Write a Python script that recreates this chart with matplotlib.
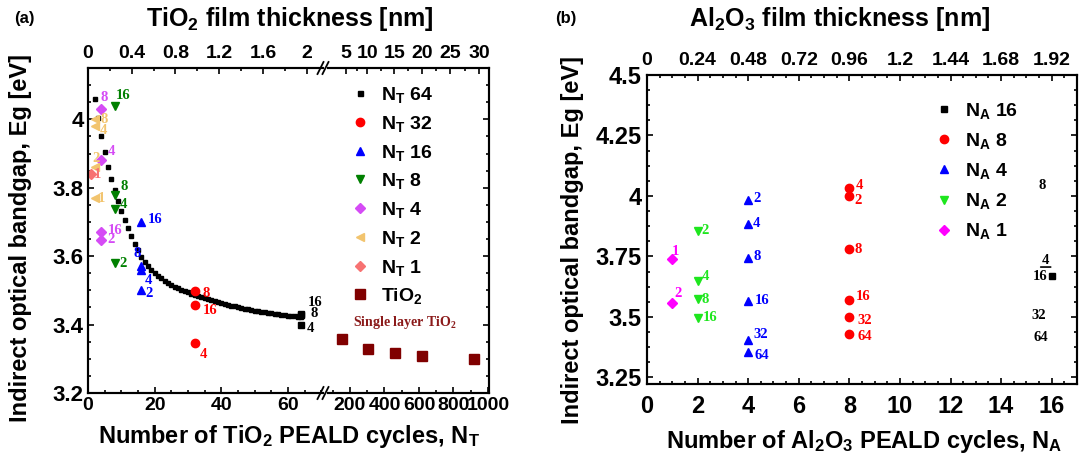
import matplotlib
matplotlib.use('Agg')
import matplotlib.pyplot as plt
from matplotlib.lines import Line2D
from matplotlib.transforms import offset_copy

plt.rcParams['font.family'] = ['Liberation Sans', 'DejaVu Sans']
plt.rcParams['font.weight'] = 'bold'
plt.rcParams['mathtext.fontset'] = 'custom'
plt.rcParams['mathtext.rm'] = 'Liberation Sans:bold'
plt.rcParams['mathtext.it'] = 'Liberation Sans:bold'
plt.rcParams['mathtext.bf'] = 'Liberation Serif:bold'

# ---------------- Panel (a) data ----------------
fit_cycles = list(range(2, 65))
fit_eg = [4.060, 4.003, 3.952, 3.905, 3.862, 3.826, 3.792, 3.762, 3.733, 3.706,
          3.682, 3.658, 3.636, 3.617, 3.599, 3.584, 3.571, 3.560, 3.550, 3.542,
          3.535, 3.528, 3.522, 3.516, 3.511, 3.506, 3.502, 3.498, 3.494, 3.490,
          3.487, 3.483, 3.480, 3.477, 3.474, 3.471, 3.468, 3.465, 3.462, 3.460,
          3.457, 3.455, 3.453, 3.451, 3.449, 3.447, 3.445, 3.443, 3.441, 3.439,
          3.437, 3.436, 3.434, 3.433, 3.431, 3.430, 3.428, 3.427, 3.426, 3.425,
          3.424, 3.423, 3.422]

nt64_labels = ['16', '8', '4']
nt64_eg = [3.432, 3.428, 3.398]
nt32_labels = ['8', '16', '4']
nt32_eg = [3.497, 3.456, 3.347]
nt16_labels = ['16', '8', '4', '2']
nt16_eg = [3.700, 3.572, 3.560, 3.501]
nt8_labels = ['16', '8', '4', '2']
nt8_eg = [4.038, 3.780, 3.738, 3.579]
nt4_labels = ['8', '4', '16', '2']
nt4_eg = [4.029, 3.880, 3.670, 3.648]
nt2_labels = ['8', '4', '2', '1']
nt2_eg = [4.000, 3.980, 3.862, 3.770]
nt1_labels = ['1']
nt1_eg = [3.840]
tio2_cycles = [152, 306, 461, 616, 919]
tio2_eg = [3.357, 3.328, 3.316, 3.307, 3.298]

a_legend_labels = [r'$\mathrm{N_T}$ 64', r'$\mathrm{N_T}$ 32', r'$\mathrm{N_T}$ 16',
                   r'$\mathrm{N_T}$ 8', r'$\mathrm{N_T}$ 4', r'$\mathrm{N_T}$ 2',
                   r'$\mathrm{N_T}$ 1', r'TiO$_2$']
a_yticks = [3.2, 3.4, 3.6, 3.8, 4.0]
a_yticklabels = ['3.2', '3.4', '3.6', '3.8', '4']
a_xticks_left = [0, 20, 40, 60]
a_xticks_right = [200, 400, 600, 800, 1000]
a_top_nm_left = [0, 0.4, 0.8, 1.2, 1.6, 2.0]
a_top_nm_left_labels = ['0', '0.4', '0.8', '1.2', '1.6', '2']
a_top_right_cycles = [177, 299, 458, 617, 780, 948]
a_top_right_labels = ['5', '10', '15', '20', '25', '30']
cycles_per_nm = 32.8

# ---------------- Panel (b) data ----------------
na1_labels = ['1', '2']
na1_eg = [3.738, 3.559]
na2_labels = ['2', '4', '8', '16']
na2_eg = [3.856, 3.650, 3.575, 3.497]
na4_labels = ['2', '4', '8', '16', '32', '64']
na4_eg = [3.983, 3.884, 3.745, 3.565, 3.404, 3.354]
na8_labels = ['4', '2', '8', '16', '32', '64']
na8_eg = [4.032, 4.000, 3.779, 3.570, 3.500, 3.429]
na16_labels = ['8', '4', '16', '32', '64']
na16_eg = [4.045, 3.735, 3.669, 3.504, 3.414]

b_legend_labels = [r'$\mathrm{N_A}$ 16', r'$\mathrm{N_A}$ 8', r'$\mathrm{N_A}$ 4',
                   r'$\mathrm{N_A}$ 2', r'$\mathrm{N_A}$ 1']
b_yticks = [3.25, 3.5, 3.75, 4.0, 4.25, 4.5]
b_yticklabels = ['3.25', '3.5', '3.75', '4', '4.25', '4.5']
b_xticks = [0, 2, 4, 6, 8, 10, 12, 14, 16]
b_top_labels = ['0', '0.24', '0.48', '0.72', '0.96', '1.2', '1.44', '1.68', '1.92']

# ---------------- styling ----------------
W, H = 1086, 461
fig = plt.figure(figsize=(W / 100, H / 100), dpi=100)


def fx(px):
    return px / W


def fy(py):
    return 1 - py / H


C64, C32, C16, C8, C4, C2, C1, CT = ('black', '#FF0000', '#0000FF', '#008000',
                                     '#D54BF5', '#F2C46E', '#F77272', '#800000')
CB16, CB8, CB4, CB2, CB1 = 'black', '#FF0000', '#0000FF', '#1EE61E', '#FF00FF'

LBL = dict(fontsize=10.5, fontfamily='Liberation Serif', fontweight='bold',
           ha='center', va='center')
SPW = 1.5


def label_points(ax, x, ys, labels, offsets, color):
    for y, t, (dx, dy) in zip(ys, labels, offsets):
        ax.annotate(t, (x, y), xytext=(dx, -dy), textcoords='offset pixels',
                    color=color, **LBL)


def style_ticks(ax):
    ax.tick_params(which='both', direction='in', width=1.2)
    ax.tick_params(which='major', length=4.5)
    ax.tick_params(which='minor', length=2.5)
    for s in ax.spines.values():
        s.set_linewidth(SPW)


# ---------- Panel (a): broken x axis ----------
ylo, yhi = 3.2, 4.15
axL = fig.add_axes([fx(88), fy(393), fx(323) - fx(88), fy(68) - fy(393)])
axR = fig.add_axes([fx(328), fy(393), fx(489) - fx(328), fy(68) - fy(393)])
for ax in (axL, axR):
    ax.set_ylim(ylo, yhi)
    style_ticks(ax)
axL.set_xlim(0, 70.5)
axR.set_xlim(72.5, 1006)
axL.spines['right'].set_visible(False)
axR.spines['left'].set_visible(False)
axL.set_yticks(a_yticks)
axL.set_yticklabels(a_yticklabels)
axL.set_yticks([v / 100 for v in range(320, 416, 5)], minor=True)
axL.tick_params(axis='y', labelsize=16, pad=3)
axR.yaxis.tick_right()
axR.set_yticks(a_yticks)
axR.set_yticks([v / 100 for v in range(320, 416, 5)], minor=True)
axR.tick_params(axis='y', which='both', labelright=False)
axL.set_xticks(a_xticks_left)
axL.set_xticks(list(range(0, 71, 5)), minor=True)
axR.set_xticks(a_xticks_right)
axR.set_xticks(list(range(100, 1001, 100)), minor=True)
axL.tick_params(axis='x', labelsize=14, pad=3)
axR.tick_params(axis='x', labelsize=14, pad=3)

# top axes for thickness
axLt = axL.twiny()
axLt.set_xlim(axL.get_xlim())
axLt.set_xticks([v * cycles_per_nm for v in a_top_nm_left])
axLt.set_xticklabels(a_top_nm_left_labels)
axLt.set_xticks([v / 10 * cycles_per_nm for v in range(0, 22, 2)], minor=True)
axRt = axR.twiny()
axRt.set_xlim(axR.get_xlim())
axRt.set_xticks(a_top_right_cycles)
axRt.set_xticklabels(a_top_right_labels)
axRt.set_xticks([(a + b) / 2 for a, b in zip(a_top_right_cycles[:-1], a_top_right_cycles[1:])],
                minor=True)
for ax in (axLt, axRt):
    style_ticks(ax)
    ax.tick_params(axis='x', labelsize=14, pad=4)
axLt.spines['right'].set_visible(False)
axRt.spines['left'].set_visible(False)

# data
axL.plot(fit_cycles, fit_eg, ls='none', marker='s', ms=2.6, color=C64)
axL.plot([64] * len(nt64_eg), nt64_eg, ls='none', marker='s', ms=5, color=C64)
axL.plot([32] * len(nt32_eg), nt32_eg, ls='none', marker='o', ms=6, color=C32)
axL.plot([16] * len(nt16_eg), nt16_eg, ls='none', marker='^', ms=6, color=C16)
axL.plot([8] * len(nt8_eg), nt8_eg, ls='none', marker='v', ms=6, color=C8)
axL.plot([4] * len(nt4_eg), nt4_eg, ls='none', marker='D', ms=5, color=C4)
axL.plot([2] * len(nt2_eg), nt2_eg, ls='none', marker='<', ms=6, color=C2)
axL.plot([1] * len(nt1_eg), nt1_eg, ls='none', marker='D', ms=5, color=C1)
axR.plot(tio2_cycles, tio2_eg, ls='none', marker='s', ms=7, color=CT)

label_points(axL, 64, nt64_eg, nt64_labels, [(14, -11), (13, -2), (9, 3)], C64)
label_points(axL, 32, nt32_eg, nt32_labels, [(12, 2), (15, 5), (9, 12)], C32)
label_points(axL, 16, nt16_eg, nt16_labels, [(14, -2), (-4, -12), (7, 11), (8, 3)], C16)
label_points(axL, 8, nt8_eg, nt8_labels, [(8, -11), (10, -8), (9, -4), (8, 0)], C8)
label_points(axL, 4, nt4_eg, nt4_labels, [(3, -12), (10, -9), (14, -2), (10, 0)], C4)
label_points(axL, 2, nt2_eg, nt2_labels, [(10, 0), (9, 4), (1, -8), (7, 0)], C2)
label_points(axL, 1, nt1_eg, nt1_labels, [(6, 0)], C1)

axR.text(0.48, 0.218, r'Single layer TiO$_\mathbf{2}$', transform=axR.transAxes,
         ha='center', va='center', fontsize=10, fontfamily='Liberation Serif',
         fontweight='bold', color='#8B1A1A')

a_handles = [Line2D([], [], ls='none', marker='s', ms=3.6, color=C64),
             Line2D([], [], ls='none', marker='o', ms=6, color=C32),
             Line2D([], [], ls='none', marker='^', ms=6, color=C16),
             Line2D([], [], ls='none', marker='v', ms=6, color=C8),
             Line2D([], [], ls='none', marker='D', ms=5, color=C4),
             Line2D([], [], ls='none', marker='<', ms=6, color=C2),
             Line2D([], [], ls='none', marker='D', ms=5, color=C1),
             Line2D([], [], ls='none', marker='s', ms=7, color=CT)]
fig.legend(a_handles, a_legend_labels, loc='upper left', bbox_to_anchor=(fx(350), fy(85)),
           frameon=False, fontsize=14, handlelength=1.0, handletextpad=0.6,
           labelspacing=0.45, borderpad=0, borderaxespad=0)

# break marks
for ypix in (393, 68):
    for xpix in (320.5, 325.5):
        fig.add_artist(Line2D([fx(xpix - 3), fx(xpix + 3)], [fy(ypix + 6), fy(ypix - 6)],
                              transform=fig.transFigure, color='black', lw=1.3))

fig.text(fx(24), fy(19), '(a)', fontsize=12, ha='center', va='center')
fig.text(fx(290), fy(19), r'TiO$_2$ film thickness [nm]', fontsize=18, ha='center', va='center')
fig.text(fx(289), fy(436), r'Number of TiO$_2$ PEALD cycles, N$_\mathrm{T}$', fontsize=17,
         ha='center', va='center')
fig.text(fx(21), fy(238), 'Indirect optical bandgap, Eg [eV]', fontsize=17,
         rotation=90, ha='center', va='center')

# ---------- Panel (b) ----------
axB = fig.add_axes([fx(647), fy(384), fx(1077) - fx(647), fy(75) - fy(384)])
axB.set_xlim(0, 17)
axB.set_ylim(3.2225, 4.5)
style_ticks(axB)
axB.tick_params(which='both', right=True)
axB.set_xticks(b_xticks)
axB.set_xticks([v / 2 for v in range(0, 35)], minor=True)
axB.set_yticks(b_yticks)
axB.set_yticklabels(b_yticklabels)
axB.set_yticks([3.25 + v * 0.0625 for v in range(0, 21)], minor=True)
axB.tick_params(axis='both', labelsize=17)
axB.tick_params(axis='x', pad=8)
axB.tick_params(axis='y', pad=4)
axBt = axB.twiny()
axBt.set_xlim(axB.get_xlim())
axBt.set_xticks(b_xticks)
axBt.set_xticklabels(b_top_labels)
axBt.set_xticks([v / 2 for v in range(0, 35)], minor=True)
style_ticks(axBt)
axBt.tick_params(axis='x', labelsize=14, pad=4)

axB.plot([1] * len(na1_eg), na1_eg, ls='none', marker='D', ms=5, color=CB1)
axB.plot([2] * len(na2_eg), na2_eg, ls='none', marker='v', ms=6, color=CB2)
axB.plot([4] * len(na4_eg), na4_eg, ls='none', marker='^', ms=6, color=CB4)
axB.plot([8] * len(na8_eg), na8_eg, ls='none', marker='o', ms=6, color=CB8)
axB.plot([16], [na16_eg[na16_labels.index('16')]], ls='none', marker='s', ms=4.5, color=CB16)

label_points(axB, 1, na1_eg, na1_labels, [(3, -8), (6, -9)], CB1)
label_points(axB, 2, na2_eg, na2_labels, [(7, 0), (8, -4), (8, 1), (13, 0)], CB2)
label_points(axB, 4, na4_eg, na4_labels, [(9, -2), (8, 0), (9, -1), (14, -1), (13, -6), (14, 3)], CB4)
label_points(axB, 8, na8_eg, na8_labels, [(10, -3), (9, 5), (9, 0), (14, -3), (15, 4), (15, 2)], CB8)
label_points(axB, 16, na16_eg, na16_labels, [(-10, 0), (-6, 0), (-12, 0), (-13, 0), (-11, 0)], CB16)
# small dash under the "4" label of N_A 16
v4 = na16_eg[na16_labels.index('4')]
axB.annotate('', xy=(16, v4), xycoords=offset_copy(axB.transData, fig=fig, x=-1, y=-7, units='dots'),
             xytext=(16, v4), textcoords=offset_copy(axB.transData, fig=fig, x=-11, y=-7, units='dots'),
             arrowprops=dict(arrowstyle='-', lw=1.2, color='black', shrinkA=0, shrinkB=0))

b_handles = [Line2D([], [], ls='none', marker='s', ms=4.5, color=CB16),
             Line2D([], [], ls='none', marker='o', ms=6, color=CB8),
             Line2D([], [], ls='none', marker='^', ms=6, color=CB4),
             Line2D([], [], ls='none', marker='v', ms=6, color=CB2),
             Line2D([], [], ls='none', marker='D', ms=5, color=CB1)]
fig.legend(b_handles, b_legend_labels, loc='upper left', bbox_to_anchor=(fx(934), fy(101)),
           frameon=False, fontsize=14, handlelength=1.0, handletextpad=0.6,
           labelspacing=0.52, borderpad=0, borderaxespad=0)

fig.text(fx(566), fy(18), '(b)', fontsize=12, ha='center', va='center')
fig.text(fx(840), fy(19), r'Al$_2$O$_3$ film thickness [nm]', fontsize=18, ha='center', va='center')
fig.text(fx(864), fy(441), r'Number of Al$_2$O$_3$ PEALD cycles, N$_\mathrm{A}$', fontsize=17,
         ha='center', va='center')
fig.text(fx(573), fy(240), 'Indirect optical bandgap, Eg [eV]', fontsize=17,
         rotation=90, ha='center', va='center')

fig.savefig('out.png', dpi=100)
